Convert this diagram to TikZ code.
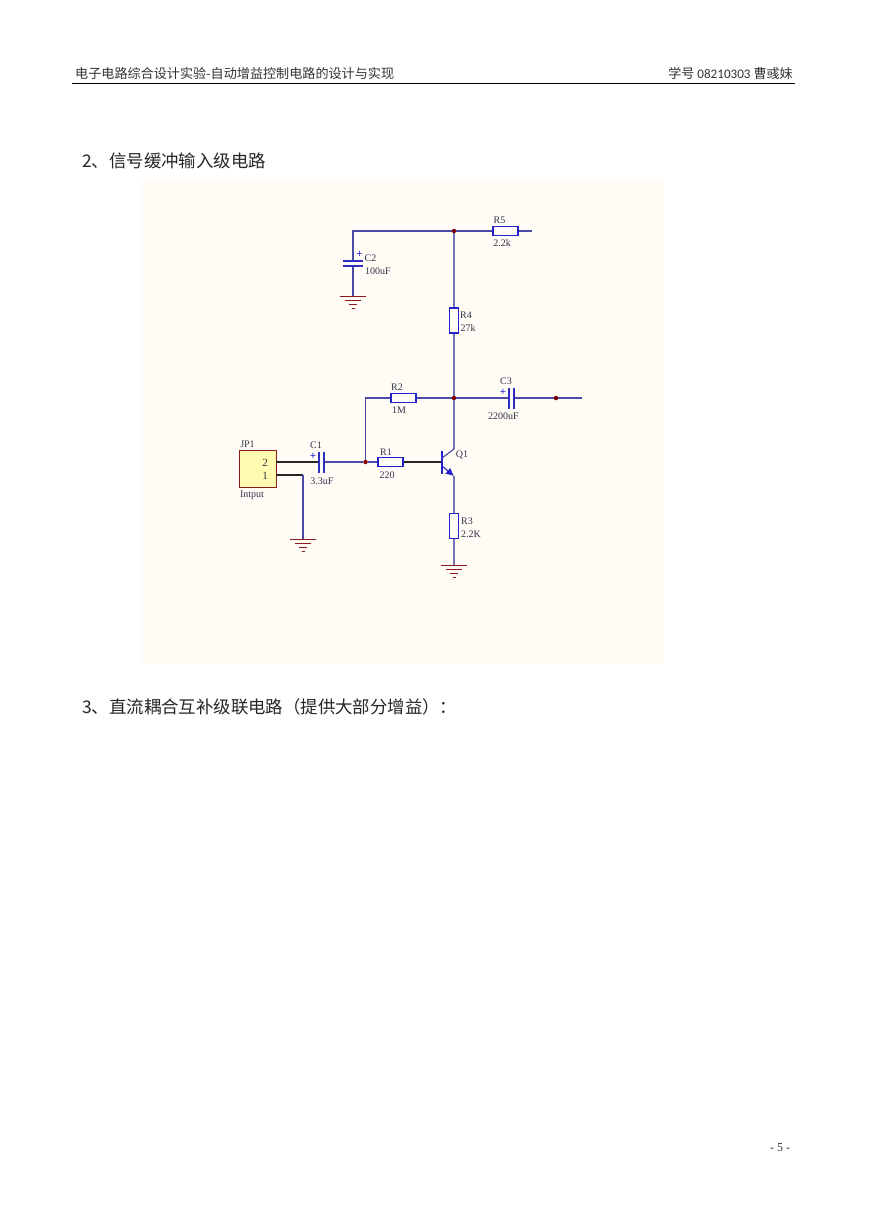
\documentclass[tikz,border=0pt]{standalone}
\usepackage{fontspec}
\usepackage{xcolor}
\usepackage{tikz}
\usetikzlibrary{arrows.meta, positioning, calc}
\setmainfont{Liberation Serif}
\newfontfamily\cjk{Noto Sans CJK SC}
\newfontfamily\latinhead{Carlito}
\definecolor{sheetbg}{HTML}{FFFCF6}
\definecolor{wireblue}{HTML}{4A4AA8}
\definecolor{railblue}{HTML}{7474B4}
\definecolor{partblue}{HTML}{2222CC}
\definecolor{gndred}{HTML}{8B1A1A}
\definecolor{dotred}{HTML}{800000}
\definecolor{jpfill}{HTML}{FFFBB0}
\definecolor{labelgray}{HTML}{33334A}
\tikzset{
    wire/.style={wireblue, line width=1.1pt},
    railwire/.style={railblue, line width=1.8pt},
    blackwire/.style={black!85, line width=1.1pt},
    gndline/.style={gndred, line width=1pt},
    resbox/.style={draw=partblue, fill=sheetbg, line width=1.3pt, inner sep=0pt, minimum width=25pt, minimum height=9pt},
    resboxv/.style={resbox, minimum width=9pt, minimum height=25pt},
    plate/.style={partblue!70!wireblue, line width=1.3pt},
    dot/.style={circle, fill=dotred, inner sep=0pt, minimum size=4.5pt},
    lbl/.style={text=labelgray, inner sep=0pt, font=\fontsize{10}{12}\selectfont},
    plus/.style={text=partblue, inner sep=0pt, font=\fontsize{11}{12}\selectfont\bfseries},
    hdr/.style={text=black!80, inner sep=0pt, anchor=base west, font=\fontsize{13.1}{15}\selectfont},
    sect/.style={text=black!85, inner sep=0pt, anchor=base west, font=\fontsize{17.4}{20}\selectfont},
}
\begin{document}
\begin{tikzpicture}[x=1pt, y=-1pt]
    \useasboundingbox (0,0) rectangle (868,1228);
    \fill[white] (0,0) rectangle (868,1228);
    \fill[sheetbg] (142,178) rectangle (664,664);
    % Page header
    \node[hdr] (title) at (75,79) {\cjk 电子电路综合设计实验-自动增益控制电路的设计与实现};
    \node[hdr, anchor=base east] (idname) at (793,79) {\cjk 学号 {\latinhead 08210303} 曹彧妹};
    \coordinate (ruleL) at (72,83);
    \coordinate (ruleR) at (795,83);
    \draw[black, line width=0.8pt] (ruleL) -- (ruleR);
    % Section titles
    \node[sect] (sectwo) at (82,167) {\cjk 2、信号缓冲输入级电路};
    \node[sect] (secthree) at (82,713) {\cjk 3、直流耦合互补级联电路（提供大部分增益）：};
    \node[text=black!80, inner sep=0pt, font=\fontsize{12}{14}\selectfont] (pageno) at (780,1148) {- 5 -};
    % Resistors
    \node[resbox] (R5) at (505.5,231) {};
    \node[resboxv] (R4) at (454,320.5) {};
    \node[resbox] (R2) at (403.5,398) {};
    \node[resbox] (R1) at (390.5,462) {};
    \node[resboxv] (R3) at (454,526) {};
    % Junctions
    \node[dot] (jtop) at (454,231) {};
    \node[dot] (jmid) at (454,398) {};
    \node[dot] (jout) at (556,398) {};
    \node[dot] (jin) at (365.5,462) {};
    % Connector block
    \node[draw=gndred, fill=jpfill, line width=0.9pt, inner sep=0pt, minimum width=37pt, minimum height=37pt] (JP1) at (257.5,468.5) {};
    % Free ends and part pins
    \coordinate (c2top) at (353,231);
    \coordinate (c2a) at (353,261);
    \coordinate (c2b) at (353,266);
    \coordinate (gc2) at (353,296);
    \coordinate (r5end) at (532,231);
    \coordinate (r2left) at (365.5,398);
    \coordinate (c3a) at (509,398);
    \coordinate (c3b) at (514,398);
    \coordinate (outend) at (582,398);
    \coordinate (pin2) at (276,462);
    \coordinate (pin1) at (276,475);
    \coordinate (c1a) at (319,462);
    \coordinate (c1b) at (324,462);
    \coordinate (pin1c) at (303,475);
    \coordinate (gjp) at (303,539);
    \coordinate (base) at (442,462);
    \coordinate (coll) at (454,449);
    \coordinate (emit) at (454,476);
    \coordinate (gr3) at (454,565);
    % Wires
    \draw[wire] (c2a) -- (c2top) -- (jtop) -- (R5.west);
    \draw[wire] (R5.east) -- (r5end);
    \draw[railwire] (jtop) -- (R4.north);
    \draw[railwire] (R4.south) -- (jmid);
    \draw[wire] (c2b) -- (gc2);
    \draw[wire, line width=1.5pt] (jin) -- (r2left) -- (R2.west);
    \draw[wire] (R2.east) -- (jmid) -- (c3a);
    \draw[wire] (c3b) -- (jout) -- (outend);
    \draw[railwire] (jmid) -- (coll);
    \draw[railwire] (emit) -- (R3.north);
    \draw[railwire] (R3.south) -- (gr3);
    \draw[blackwire] (pin2) -- (c1a);
    \draw[wire] (c1b) -- (jin) -- (R1.west);
    \draw[blackwire] (R1.east) -- (base);
    \draw[blackwire] (pin1) -- (pin1c);
    \draw[wire] (pin1c) -- (gjp);
    % Capacitor plates
    \draw[plate] ($(c2a)+(-10,0)$) -- ($(c2a)+(10,0)$);
    \draw[plate] ($(c2b)+(-10,0)$) -- ($(c2b)+(10,0)$);
    \foreach \p in {c3a,c3b} { \draw[plate] ($(\p)+(0,-10.5)$) -- ($(\p)+(0,10.5)$); }
    \foreach \p in {c1a,c1b} { \draw[plate] ($(\p)+(0,-10.5)$) -- ($(\p)+(0,10.5)$); }
    % Transistor
    \draw[partblue, line width=1.4pt] ($(base)+(0,-11)$) -- ($(base)+(0,12)$);
    \draw[wire] ($(base)+(0,-4)$) -- (coll);
    \draw[partblue, line width=1.1pt, -{Latex[length=8pt,width=8pt]}] ($(base)+(0,4)$) -- (emit);
    % Grounds
    \foreach \g in {gc2,gjp,gr3} {
        \draw[gndline] ($(\g)+(-13,0)$) -- ($(\g)+(13,0)$);
        \draw[gndline] ($(\g)+(-8,4)$) -- ($(\g)+(8,4)$);
        \draw[gndline] ($(\g)+(-4,8)$) -- ($(\g)+(4,8)$);
        \draw[gndline] ($(\g)+(-1.5,12)$) -- ($(\g)+(1.5,12)$);
    }
    % Labels
    \node[lbl] (lr5) at (499.5,220) {R5};
    \node[lbl] (vr5) at (502,243) {2.2k};
    \node[lbl] (lc2) at (370.5,258) {C2};
    \node[lbl] (vc2) at (378,271) {100uF};
    \node[lbl] (lr4) at (466,315) {R4};
    \node[lbl] (vr4) at (468,328) {27k};
    \node[lbl] (lr2) at (397,387) {R2};
    \node[lbl] (vr2) at (399,410) {1M};
    \node[lbl] (lc3) at (506,381) {C3};
    \node[lbl] (vc3) at (503.5,416) {2200uF};
    \node[lbl] (ljp) at (247.5,444) {JP1};
    \node[lbl, font=\fontsize{11}{12}\selectfont] (ptwo) at (265,463) {2};
    \node[lbl, font=\fontsize{11}{12}\selectfont] (pone) at (265,476) {1};
    \node[lbl] (vjp) at (252,495) {Intput};
    \node[lbl] (lc1) at (316,445) {C1};
    \node[lbl] (vc1) at (322,481) {3.3uF};
    \node[lbl] (lr1) at (386,452) {R1};
    \node[lbl] (vr1) at (387,475) {220};
    \node[lbl] (lq1) at (462,455) {Q1};
    \node[lbl] (lr3) at (467,521) {R3};
    \node[lbl] (vr3) at (471,534) {2.2K};
    \node[plus] (pc2) at (359.5,254) {+};
    \node[plus] (pc3) at (503,392) {+};
    \node[plus] (pc1) at (313,456) {+};
\end{tikzpicture}
\end{document}
